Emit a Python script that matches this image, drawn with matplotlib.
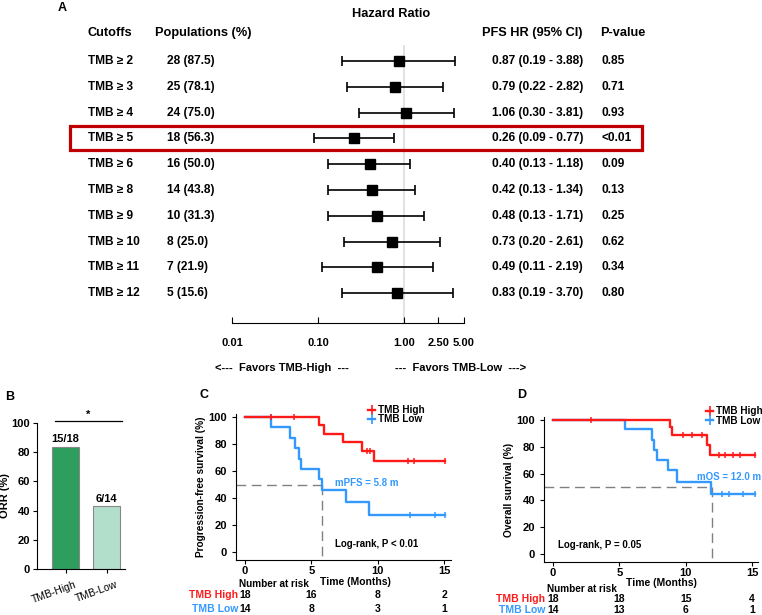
import numpy as np
import matplotlib
matplotlib.use('Agg')
import matplotlib.pyplot as plt
from matplotlib import transforms, patches
from matplotlib.lines import Line2D

plt.rcParams['font.family'] = ['Liberation Sans', 'DejaVu Sans']
plt.rcParams['font.weight'] = 'bold'
plt.rcParams['axes.labelweight'] = 'bold'
plt.rcParams['font.size'] = 8

# ---- data: forest plot (panel A)
cutoffs = ['TMB ≥ 2', 'TMB ≥ 3', 'TMB ≥ 4', 'TMB ≥ 5', 'TMB ≥ 6',
           'TMB ≥ 8', 'TMB ≥ 9', 'TMB ≥ 10', 'TMB ≥ 11', 'TMB ≥ 12']
populations = ['28 (87.5)', '25 (78.1)', '24 (75.0)', '18 (56.3)', '16 (50.0)',
               '14 (43.8)', '10 (31.3)', '8 (25.0)', '7 (21.9)', '5 (15.6)']
hr = [0.87, 0.79, 1.06, 0.26, 0.40, 0.42, 0.48, 0.73, 0.49, 0.83]
hr_lo = [0.19, 0.22, 0.30, 0.09, 0.13, 0.13, 0.13, 0.20, 0.11, 0.19]
hr_hi = [3.88, 2.82, 3.81, 0.77, 1.18, 1.34, 1.71, 2.61, 2.19, 3.70]
pvalues = ['0.85', '0.71', '0.93', '<0.01', '0.09', '0.13', '0.25', '0.62', '0.34', '0.80']
hr_ticks = [0.01, 0.1, 1, 2.5, 5]
hr_ticklabels = ['0.01', '0.10', '1.00', '2.50', '5.00']
highlight_row = 3

# ---- data: ORR (panel B)
orr_groups = ['TMB-High', 'TMB-Low']
orr_resp = [15, 6]
orr_total = [18, 14]

# ---- data: Kaplan-Meier (panels C, D)
pfs_high_t = [0, 5.56, 5.96, 7.35, 8.83, 9.74, 15.1]
pfs_high_s = [100, 93.8, 87.5, 81.3, 75.0, 67.5, 67.5]
pfs_high_c = [1.94, 3.7, 9.2, 9.45, 12.3, 12.7, 15.1]
pfs_low_t = [0, 1.95, 3.42, 3.75, 4.05, 4.2, 5.56, 5.81, 7.58, 9.34, 15.1]
pfs_low_s = [100, 92.3, 84.6, 76.9, 69.2, 61.5, 53.8, 46.2, 36.9, 27.7, 27.7]
pfs_low_c = [1.94, 12.4, 14.3, 15.1]

os_high_t = [0, 8.8, 8.95, 11.6, 11.8, 15.2]
os_high_s = [100, 94.4, 88.9, 81.5, 74.1, 74.1]
os_high_c = [2.9, 9.8, 10.5, 11.2, 12.5, 13.0, 13.6, 14.1, 15.2]
os_low_t = [0, 5.43, 7.46, 7.59, 7.84, 8.64, 9.32, 11.9, 15.2]
os_low_s = [100, 92.9, 85.1, 77.6, 70.1, 62.7, 54.0, 44.8, 44.8]
os_low_c = [12.7, 13.3, 14.3, 15.2]

median_pfs_low = 5.8
median_os_low = 12.0

risk_times = [0, 5, 10, 15]
pfs_risk_high = [18, 16, 8, 2]
pfs_risk_low = [14, 8, 3, 1]
os_risk_high = [18, 18, 15, 4]
os_risk_low = [14, 13, 6, 1]

RED = '#FF1A1A'
BLUE = '#3399FF'
W, H = 762, 615

fig = plt.figure(figsize=(W / 100, H / 100), dpi=100)


def fx(x):
    return x / W


def fy(y):
    return 1 - y / H


def rect(l, t, r, b):
    return [l / W, 1 - b / H, (r - l) / W, (b - t) / H]


# ================= Panel A: forest plot
axA = fig.add_axes(rect(232, 45, 464, 323))
axA.set_xscale('log')
axA.set_xlim(0.01, 5)
axA.set_ylim(10.16, -0.62)
rows = np.arange(len(cutoffs))
axA.axvline(1, color='#dddddd', lw=1.2, zorder=0)
axA.errorbar(hr, rows, xerr=[np.array(hr) - np.array(hr_lo), np.array(hr_hi) - np.array(hr)],
             fmt='s', color='black', ms=7, capsize=3.5, elinewidth=1.2, capthick=1.2)
for s in ['top', 'left', 'right']:
    axA.spines[s].set_visible(False)
axA.set_yticks([])
axA.set_xticks(hr_ticks)
axA.set_xticklabels(hr_ticklabels)
axA.minorticks_off()
axA.tick_params(axis='x', direction='in', length=4, pad=11, labelsize=8)

blendA = transforms.blended_transform_factory(fig.transFigure, axA.transData)
row_fs = 8.6
for i in rows:
    axA.text(fx(88), i, cutoffs[i], transform=blendA, va='center', fontsize=row_fs, clip_on=False)
    axA.text(fx(167), i, populations[i], transform=blendA, va='center', fontsize=row_fs, clip_on=False)
    axA.text(fx(492), i, f'{hr[i]:.2f} ({hr_lo[i]:.2f} - {hr_hi[i]:.2f})',
             transform=blendA, va='center', fontsize=row_fs, clip_on=False)
    axA.text(fx(601), i, pvalues[i], transform=blendA, va='center', fontsize=row_fs, clip_on=False)

axA.add_patch(patches.Rectangle((fx(70), highlight_row - 0.47), fx(642) - fx(70), 0.94,
                                transform=blendA, fill=False, ec='#C00000', lw=2.3,
                                clip_on=False))

fig.text(fx(58), fy(8), 'A', fontsize=9, va='center')
fig.text(fx(391), fy(14), 'Hazard Ratio', fontsize=9.2, ha='center', va='center')
hdr_y = fy(33)
fig.text(fx(87), hdr_y, 'Cutoffs', fontsize=9.2, va='center')
fig.text(fx(155), hdr_y, 'Populations (%)', fontsize=9.2, va='center')
fig.text(fx(482), hdr_y, 'PFS HR (95% CI)', fontsize=9.2, va='center')
fig.text(fx(600), hdr_y, 'P-value', fontsize=9.2, va='center')
fig.text(fx(215), fy(368), '<---  Favors TMB-High  ---', fontsize=8, va='center')
fig.text(fx(395), fy(368), '---  Favors TMB-Low  --->', fontsize=8, va='center')

# ================= Panel B: ORR bars
axB = fig.add_axes(rect(37, 423, 125, 569))
orr = [100 * r / t for r, t in zip(orr_resp, orr_total)]
xb = np.arange(len(orr_groups))
axB.bar(xb, orr, width=0.66, color=['#2E9E5E', '#B2DFCB'], edgecolor='#888888', lw=0.8)
for x, v, r, t in zip(xb, orr, orr_resp, orr_total):
    axB.text(x, v + 2, f'{r}/{t}', ha='center', va='bottom', fontsize=8)
axB.set_xlim(-0.695, 1.45)
axB.set_ylim(0, 100)
axB.set_yticks(range(0, 101, 20))
axB.set_xticks(xb)
axB.set_xticklabels([])
for x, g in zip(xb, orr_groups):
    axB.text(x + 0.22, -0.07, g, transform=axB.get_xaxis_transform(), rotation=20,
             rotation_mode='anchor', ha='right', va='top', fontsize=7.5, fontweight='normal')
axB.set_ylabel('ORR (%)', fontsize=8, labelpad=1)
axB.spines['top'].set_visible(False)
axB.spines['right'].set_visible(False)
axB.tick_params(length=3, labelsize=8)
axB.tick_params(axis='y', pad=2)
axB.plot([-0.26, 1.38], [101.5, 101.5], color='black', lw=0.9, clip_on=False)
axB.text(0.55, 102, '*', ha='center', va='bottom', fontsize=8)
fig.text(fx(5), fy(397), 'B', fontsize=9, va='center')


# ================= KM helpers
def km(ax, t, s, ct, color):
    ax.step(t, s, where='post', color=color, lw=1.7)
    cy = np.array(s)[np.searchsorted(t, ct, side='right') - 1]
    ax.plot(ct, cy, ls='none', marker='|', ms=5, mew=1.1, color=color)


def km_axes(r, xlim, ylim, ylabel, xlab_pos):
    ax = fig.add_axes(r)
    ax.set_xlim(*xlim)
    ax.set_ylim(*ylim)
    ax.set_xticks([0, 5, 10, 15])
    ax.set_yticks(range(0, 101, 20))
    ax.spines['top'].set_visible(False)
    ax.spines['right'].set_visible(False)
    ax.tick_params(length=3, labelsize=8)
    ax.tick_params(axis='x', pad=1.5)
    ax.set_ylabel(ylabel, fontsize=7.3, labelpad=2)
    ax.set_xlabel('Time (Months)', fontsize=7.5)
    ax.xaxis.set_label_coords(*xlab_pos)
    handles = [Line2D([], [], color=RED, lw=1.7, marker='|', ms=7, mew=1.2),
               Line2D([], [], color=BLUE, lw=1.7, marker='|', ms=7, mew=1.2)]
    return ax, handles


def median_lines(ax, med, xlim, ylim):
    ax.plot([xlim[0], med], [50, 50], color='#808080', lw=1, dashes=(7, 4))
    ax.plot([med, med], [50, ylim[0]], color='#808080', lw=1, dashes=(7, 4))


def risk_table(ax, ys, high, low, label_right, head_x, head_y):
    blend = transforms.blended_transform_factory(ax.transData, fig.transFigure)
    fig.text(fx(head_x), fy(head_y), 'Number at risk', fontsize=7.2, va='center')
    for y, vals, name, col in [(ys[0], high, 'TMB High', RED), (ys[1], low, 'TMB Low', BLUE)]:
        fig.text(fx(label_right), fy(y), name, color=col, fontsize=7.5, ha='right', va='center')
        for t, n in zip(risk_times, vals):
            ax.text(t, fy(y), str(n), transform=blend, ha='center', va='center',
                    fontsize=7.5, clip_on=False)


leg_kw = dict(bbox_transform=fig.transFigure, frameon=False, fontsize=7.2, handlelength=0.7,
              handletextpad=0.3, labelspacing=-0.05, borderpad=0, borderaxespad=0,
              loc='upper left')

# ================= Panel C: PFS
xlimC, ylimC = (-0.68, 15.5), (-5.9, 102)
axC, hC = km_axes(rect(236, 414.3, 450.7, 560), xlimC, ylimC,
                  'Progression-free survival (%)', (0.554, -0.115))
median_lines(axC, median_pfs_low, xlimC, ylimC)
km(axC, pfs_low_t, pfs_low_s, pfs_low_c, BLUE)
km(axC, pfs_high_t, pfs_high_s, pfs_high_c, RED)
axC.text(6.8, 51, f'mPFS = {median_pfs_low} m', color=BLUE, fontsize=7, va='center')
axC.text(6.8, 6, 'Log-rank, P < 0.01', fontsize=7, va='center')
axC.legend(hC, ['TMB High', 'TMB Low'], bbox_to_anchor=(fx(368), fy(405)), **leg_kw)
risk_table(axC, (595, 609), pfs_risk_high, pfs_risk_low, 238, 239, 584)
fig.text(fx(200), fy(395), 'C', fontsize=9, va='center')

# ================= Panel D: OS
xlimD, ylimD = (-0.68, 15.45), (-6, 102)
axD, hD = km_axes(rect(544, 417.3, 758, 562), xlimD, ylimD,
                  'Overall survival (%)', (0.551, -0.11))
median_lines(axD, median_os_low, xlimD, ylimD)
km(axD, os_low_t, os_low_s, os_low_c, BLUE)
km(axD, os_high_t, os_high_s, os_high_c, RED)
axD.text(10.85, 57.5, f'mOS = {median_os_low} m', color=BLUE, fontsize=7, va='center')
axD.text(0.4, 6.7, 'Log-rank, P = 0.05', fontsize=7, va='center')
axD.legend(hD, ['TMB High', 'TMB Low'], bbox_to_anchor=(fx(706), fy(406)), **leg_kw)
risk_table(axD, (599, 610), os_risk_high, os_risk_low, 545, 547, 589)
fig.text(fx(517), fy(395), 'D', fontsize=9, va='center')

fig.savefig('out.png', dpi=100)
